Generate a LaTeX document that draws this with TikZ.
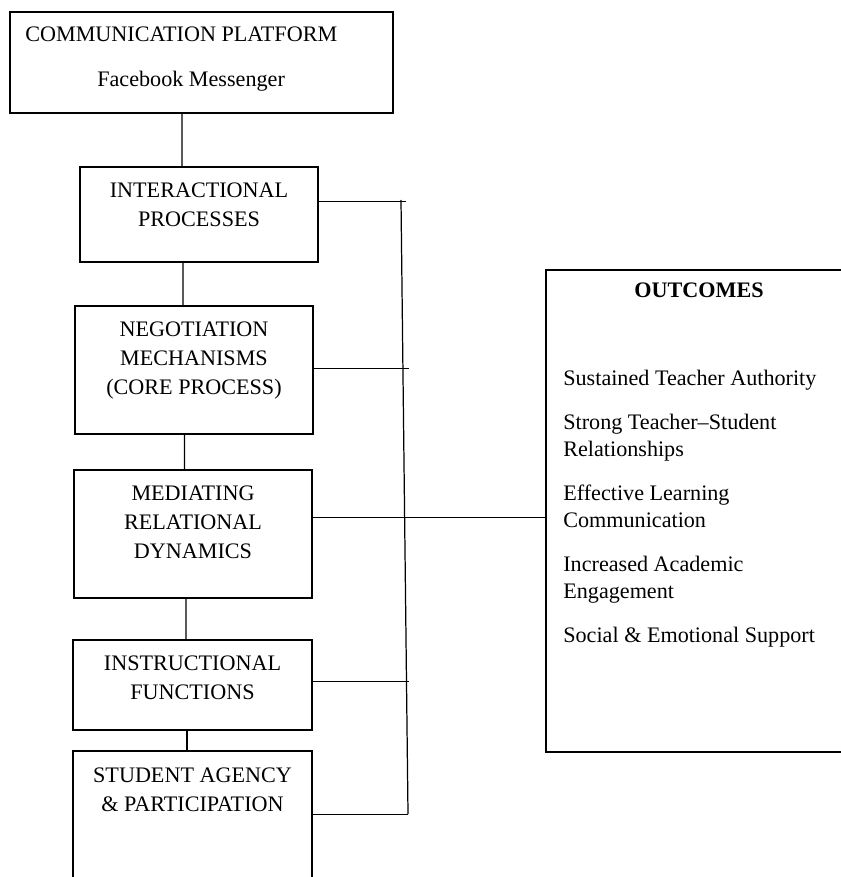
\documentclass[tikz,border=0pt]{standalone}
\usepackage{fontspec}
\setmainfont{Liberation Serif}
\usepackage{tikz}
\usetikzlibrary{positioning}
\tikzstyle{platbox} = [rectangle, minimum width=76.6mm, minimum height=20.2mm, outer sep=0pt, draw=black, line width=0.9pt]
\tikzstyle{stage}   = [rectangle, minimum width=47.6mm, outer sep=0pt, draw=black, line width=0.9pt]
\tikzstyle{outbox}  = [rectangle, minimum width=62.8mm, minimum height=96.4mm, outer sep=0pt, draw=black, line width=0.9pt]
\tikzstyle{caption} = [inner sep=0pt, align=center, font=\fontsize{12.6}{16.6}\selectfont]
\tikzstyle{heading} = [inner sep=0pt, align=center, font=\fontsize{12.6}{16.6}\selectfont\bfseries]
\tikzstyle{listing} = [inner sep=0pt, align=left, font=\fontsize{12.6}{15.5}\selectfont]
\tikzstyle{link}    = [line width=0.7pt]
\tikzstyle{branch}  = [line width=0.5pt]

\begin{document}
\begin{tikzpicture}[x=1mm, y=1mm]
    \useasboundingbox (0,0) rectangle (168.2,-175.4);

    \node (platform)  [platbox] at (40.3,-12.5) {};
    \node (interact)  [stage, minimum height=19mm,   below=10.8mm of platform,  xshift=-0.5mm] {};
    \node (negotiate) [stage, minimum height=25.6mm, below=8.8mm of interact,   xshift=-1mm] {};
    \node (mediate)   [stage, minimum height=25.6mm, below=7.2mm of negotiate,  xshift=-0.2mm] {};
    \node (instruct)  [stage, minimum height=18mm,   minimum width=47.8mm, below=8.4mm of mediate, xshift=-0.1mm] {};
    \node (agency)    [stage, minimum height=28mm,   minimum width=47.8mm, below=4.2mm of instruct] {};
    \node (outcomes)  [outbox] at (140.6,-102.2) {};

    % texts
    \node (platformtitle) [caption, anchor=base west] at (5,-8.34) {COMMUNICATION PLATFORM};
    \node (platformname)  [caption, anchor=base west] at (19.4,-17.4) {Facebook Messenger};
    \node (interacttext)  [caption, below=3mm of interact.north]  {INTERACTIONAL\\PROCESSES};
    \node (negotiatetext) [caption, below=3mm of negotiate.north] {NEGOTIATION\\MECHANISMS\\(CORE PROCESS)};
    \node (mediatetext)   [caption, below=3mm of mediate.north]   {MEDIATING\\RELATIONAL\\DYNAMICS};
    \node (instructtext)  [caption, below=3mm of instruct.north]  {INSTRUCTIONAL\\FUNCTIONS};
    \node (agencytext)    [caption, below=3.2mm of agency.north]  {STUDENT AGENCY\\\& PARTICIPATION};
    \node (outtitle)      [heading, below=2.4mm of outcomes.north, xshift=-0.8mm] {OUTCOMES};
    \node (outlist)       [listing, below right=20mm and 3.4mm of outcomes.north west]
        {Sustained Teacher Authority\\[9.4pt]
         Strong Teacher--Student\\Relationships\\[9.4pt]
         Effective Learning\\Communication\\[9.4pt]
         Increased Academic\\Engagement\\[9.4pt]
         Social \& Emotional Support};

    % links
    \draw [link] ([xshift=-3.9mm]platform.south)  -- ([xshift=-3.4mm]interact.north);
    \draw [link] ([xshift=-3.2mm]interact.south)  -- ([xshift=-2.2mm]negotiate.north);
    \draw [link] ([xshift=-1.9mm]negotiate.south) -- ([xshift=-1.7mm]mediate.north);
    \draw [link] ([xshift=-1.4mm]mediate.south)   -- ([xshift=-1.3mm]instruct.north);
    \draw [link] ([xshift=-1.1mm]instruct.south)  -- ([xshift=-1.1mm]agency.north);

    \coordinate (bustop)    at (80.2,-40);
    \coordinate (busbottom) at (81.6,-162.8);
    \coordinate (tapa)      at (81.2,-40.2);
    \coordinate (tapb)      at (81.8,-73.6);
    \coordinate (tapc)      at (0,-103.4);
    \coordinate (tapd)      at (81.8,-136.2);
    \draw [link]   (bustop) -- (busbottom);
    \draw [branch] (interact.east |- tapa)  -- (tapa);
    \draw [branch] (negotiate.east |- tapb) -- (tapb);
    \draw [branch] (mediate.east |- tapc)   -- (outcomes.west |- tapc);
    \draw [branch] (instruct.east |- tapd)  -- (tapd);
    \draw [branch] (agency.east |- busbottom) -- (busbottom);
\end{tikzpicture}
\end{document}
